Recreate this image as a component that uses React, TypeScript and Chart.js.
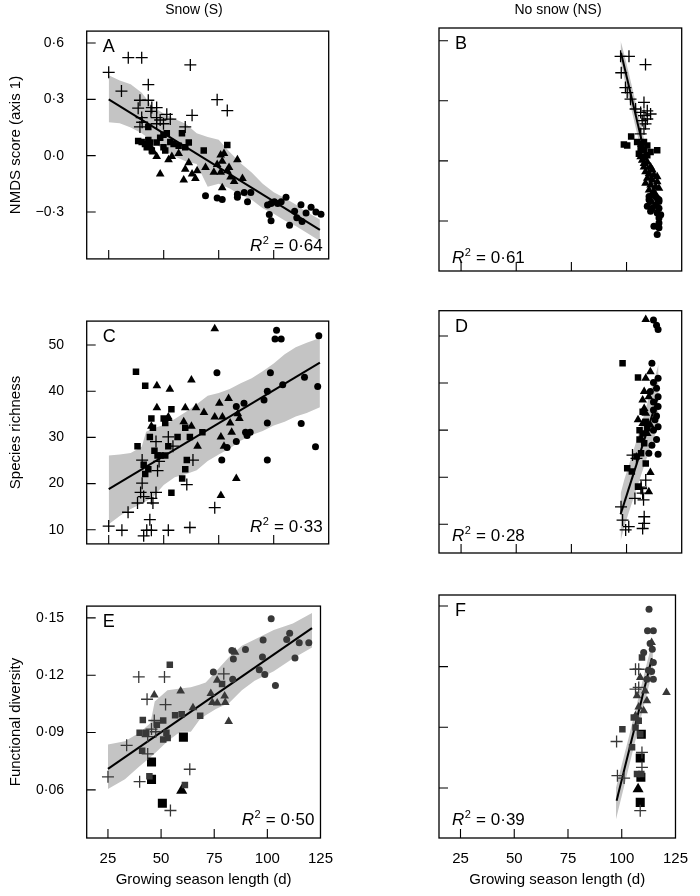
import React, { useEffect, useRef } from 'react';
import { Chart, registerables } from 'chart.js';

Chart.register(...registerables);

type Pt = [number, number];

const FONT = '"Liberation Sans", Arial, Helvetica, sans-serif';

// ---------- shared axis ticks & texts ----------
const xTickValues = [25, 50, 75, 100, 125];
const xTickLabels = ['25', '50', '75', '100', '125'];
const nmdsTickValues = [0.6, 0.3, 0, -0.3];
const nmdsTickLabels = ['0·6', '0·3', '0·0', '−0·3'];
const richTickValues = [50, 40, 30, 20, 10];
const richTickLabels = ['50', '40', '30', '20', '10'];
const fdTickValues = [0.15, 0.12, 0.09, 0.06];
const fdTickLabels = ['0·15', '0·12', '0·09', '0·06'];

const columnTitles = ['Snow (S)', 'No snow (NS)'];
const rowTitles = ['NMDS score (axis 1)', 'Species richness', 'Functional diversity'];
const xAxisTitle = 'Growing season length (d)';
const panelLetters = ['A', 'B', 'C', 'D', 'E', 'F'];
const r2Values = ['0·64', '0·61', '0·33', '0·28', '0·50', '0·39'];

// ---------- Panel A (snow, NMDS) ----------
const aCross: Pt[] = [[25, 0.444], [30.8, 0.344], [33.9, 0.522], [40.0, 0.522], [43.0, 0.378], [62.1, 0.483], [74.3, 0.298], [78.9, 0.24], [39.2, 0.295], [38.4, 0.253], [43.0, 0.295], [44.6, 0.256], [46.8, 0.256], [40.0, 0.203], [39.2, 0.153], [46.8, 0.203], [48.4, 0.19], [51.4, 0.22], [49.9, 0.17], [53.0, 0.195], [62.9, 0.215], [59.8, 0.153], [40.2, 0.178], [46.8, 0.17], [44.2, 0.236]];
const aSquare: Pt[] = [[38.4, 0.078], [40.0, 0.073], [43.0, 0.083], [41.5, 0.062], [42.3, 0.045], [43.8, 0.07], [44.6, 0.028], [46.8, 0.07], [48.4, 0.095], [49.9, 0.111], [51.4, 0.12], [49.9, 0.045], [50.7, 0.028], [53.0, 0.073], [54.5, 0.062], [56.8, 0.053], [58.3, 0.12], [59.8, 0.045], [61.4, 0.07], [43.0, 0.153], [68.2, 0.028], [78.9, 0.057]];
const aTriangle: Pt[] = [[43.8, 0.053], [45.3, 0.02], [46.8, -0.005], [48.4, -0.097], [52.2, -0.022], [53.7, -0.005], [56.8, 0.012], [59.1, -0.13], [59.8, -0.072], [61.4, -0.038], [62.9, -0.097], [64.4, -0.121], [65.2, -0.08], [69.0, -0.063], [74.3, -0.047], [75.9, 0.003], [77.4, 0.012], [76.6, -0.03], [75.9, -0.088], [78.9, -0.08], [79.7, -0.063], [80.4, -0.113], [82.0, -0.138], [83.5, -0.022], [85.8, -0.121], [76.6, -0.171], [72.8, -0.088]];
const aCircle: Pt[] = [[69.0, -0.213], [74.3, -0.226], [76.6, -0.233], [83.5, -0.205], [83.5, -0.221], [86.6, -0.196], [88.1, -0.246], [89.6, -0.196], [97.2, -0.263], [98.8, -0.255], [100.3, -0.246], [101.8, -0.255], [103.4, -0.246], [105.6, -0.221], [98.0, -0.313], [98.8, -0.346], [107.2, -0.371], [109.5, -0.296], [112.4, -0.262], [114.7, -0.305], [119.2, -0.3], [121.5, -0.312], [112.9, -0.35], [110.5, -0.33], [117, -0.275]];
const aLineX = [25, 121];
const aLineY = [0.3, -0.395];
const aBandX = [25, 30, 35, 40, 45, 50, 55, 60, 65, 70, 75, 80, 85, 90, 95, 100, 105, 110, 115, 121];
const aBandUpper = [0.428, 0.4, 0.38, 0.335, 0.26, 0.225, 0.195, 0.17, 0.12, 0.1, 0.085, 0.02, -0.04, -0.09, -0.15, -0.195, -0.225, -0.26, -0.3, -0.34];
const aBandLower = [0.178, 0.172, 0.15, 0.12, 0.075, 0.03, -0.005, -0.03, -0.045, -0.165, -0.15, -0.175, -0.21, -0.235, -0.28, -0.31, -0.345, -0.375, -0.41, -0.455];

// ---------- Panel B (no snow, NMDS) ----------
const bCross: Pt[] = [[97.3, 0.522], [101.1, 0.522], [108.6, 0.481], [97.6, 0.44], [99.5, 0.366], [100.3, 0.341], [101.8, 0.308], [107.9, 0.292], [104.1, 0.259], [106.4, 0.242], [109.4, 0.25], [107.9, 0.226], [110.9, 0.234], [107.1, 0.201], [108.6, 0.185], [107.9, 0.16], [106.4, 0.135], [109.4, 0.209]];
const bSquare: Pt[] = [[98.8, 0.082], [100.3, 0.077], [102.1, 0.122], [104.8, 0.094], [106.4, 0.086], [107.9, 0.094], [109.4, 0.077], [106.4, 0.061], [107.9, 0.053], [105.6, 0.036], [110.9, 0.044], [113.9, 0.053], [107.9, 0.02], [109.4, 0.028]];
const bTriangle: Pt[] = [[107.1, 0.003], [109.4, -0.005], [107.9, -0.03], [110.9, -0.03], [108.6, -0.054], [110.2, -0.063], [112.4, -0.071], [109.4, -0.087], [111.7, -0.096], [113.9, -0.104], [110.9, -0.12], [113.2, -0.129], [114.7, -0.137], [110.2, -0.145], [112.4, -0.153], [107.9, -0.013], [106.4, 0.02], [113.9, -0.079], [111.7, -0.046], [108.6, -0.112]];
const bCircle: Pt[] = [[110.2, -0.178], [111.7, -0.17], [113.9, -0.186], [114.7, -0.203], [110.9, -0.203], [113.2, -0.219], [109.4, -0.227], [111.7, -0.236], [114.7, -0.236], [113.9, -0.26], [114.7, -0.285], [114.7, -0.31], [112.4, -0.326], [114.7, -0.334], [113.9, -0.367], [110.2, -0.194], [113.2, -0.178], [115.5, -0.269], [110.9, -0.252], [114.7, -0.194]];
const bLineX = [97.5, 115];
const bLineY = [0.54, -0.279];
const bBandX = [97.3, 99, 101, 103, 105, 107, 109, 111, 113, 115];
const bBandUpper = [0.6, 0.53, 0.44, 0.345, 0.25, 0.155, 0.06, -0.03, -0.125, -0.22];
const bBandLower = [0.5, 0.41, 0.31, 0.22, 0.125, 0.035, -0.06, -0.155, -0.25, -0.34];

// ---------- Panel C (snow, richness) ----------
const cCross: Pt[] = [[25, 10.8], [31.0, 9.9], [33.8, 13.8], [38.1, 15.8], [39.5, 18.1], [40.2, 20.1], [40.2, 25.1], [40.9, 8.7], [42.3, 9.9], [43.7, 12.2], [44.4, 16.8], [45.1, 15.8], [44.4, 9.9], [46.5, 18.1], [46.5, 29.1], [47.9, 24.8], [47.2, 22.8], [52.1, 9.9], [52.1, 30.1], [54.2, 28.1], [60.5, 19.8], [61.9, 10.5], [63.3, 25.1], [73.2, 14.8], [40.9, 17.2]];
const cSquare: Pt[] = [[37.4, 44.2], [41.6, 41.2], [38.1, 28.1], [40.9, 24.1], [41.6, 22.1], [43.0, 23.1], [44.4, 34.1], [45.1, 32.1], [43.7, 30.1], [45.8, 27.1], [47.2, 26.1], [48.6, 26.1], [50.7, 26.1], [50.0, 34.1], [50.7, 33.1], [52.1, 28.1], [53.5, 36.1], [56.3, 30.1], [58.4, 21.1], [59.8, 23.1], [60.5, 25.1], [59.8, 32.1], [61.9, 30.1], [67.6, 31.1], [53.5, 18.0]];
const cTriangle: Pt[] = [[46.9, 41.2], [46.9, 36.4], [52.8, 40.4], [52.1, 34.1], [59.8, 36.4], [62.6, 42.4], [62.6, 32.4], [64.7, 36.4], [65.4, 28.1], [68.3, 35.4], [73.2, 53.5], [73.2, 34.4], [75.3, 37.4], [76.0, 30.1], [76.7, 34.4], [77.4, 28.1], [79.5, 38.4], [80.2, 33.1], [80.9, 31.1], [83.0, 21.1], [83.7, 35.1], [84.4, 34.1], [76.0, 17.4], [44.4, 32.4], [52.1, 34.4], [59.1, 33.4]];
const cCircle: Pt[] = [[74.2, 44.0], [76.4, 25.1], [78.8, 27.8], [83.0, 36.7], [83.0, 29.1], [86.5, 37.4], [87.2, 31.1], [87.9, 30.4], [89.3, 31.1], [95.6, 38.1], [97.1, 33.1], [97.1, 25.1], [98.5, 44.0], [97.1, 40.0], [101.3, 53.2], [100.6, 51.3], [103.4, 51.3], [104.1, 41.4], [120.5, 52], [114, 43], [120, 41], [112.5, 33], [119, 28]];
const cLineX = [25, 121];
const cLineY = [18.8, 46.2];
const cBandX = [25, 30, 35, 40, 42, 45, 50, 55, 60, 65, 70, 75, 80, 85, 90, 95, 100, 105, 110, 115, 121];
const cBandUpper = [26.1, 26.3, 26.6, 28.0, 31.2, 31.9, 32.7, 34.0, 35.5, 37.2, 39.0, 39.6, 40.5, 41.7, 42.8, 44.3, 46.0, 48.0, 49.5, 50.5, 51.5];
const cBandLower = [11.2, 13.0, 14.5, 15.7, 16.2, 17.0, 19.7, 21.4, 22.0, 22.9, 24.9, 26.3, 27.6, 29.3, 30.5, 31.4, 32.6, 33.4, 34.5, 35.3, 36.5];

// ---------- Panel D (no snow, richness) ----------
const dCross: Pt[] = [[102.7, 24.7], [104.5, 24.0], [108.7, 19.4], [106.6, 17.6], [107.3, 16.6], [103.8, 15.5], [107.7, 15.2], [97.5, 13.7], [98.2, 10.9], [101.0, 9.5], [99.6, 8.8], [108.0, 11.6], [108.0, 10.2], [107.3, 9.1], [106.6, 17.9]];
const dSquare: Pt[] = [[98.2, 44.2], [105.2, 41.2], [107.3, 33.9], [105.9, 30.0], [108.7, 31.8], [105.9, 28.0], [108.0, 27.2], [104.5, 24.4], [108.7, 22.9], [100.3, 21.9], [102.4, 21.2], [106.6, 25.1], [105.2, 18.0], [109.4, 30.4], [107.3, 29.3]];
const dTriangle: Pt[] = [[108.7, 53.5], [110.8, 42.4], [108.7, 41.0], [108.0, 38.2], [107.3, 36.4], [110.1, 37.1], [105.2, 32.2], [108.7, 33.6], [107.3, 31.4], [110.8, 31.1], [109.4, 29.3], [106.6, 28.3], [110.8, 21.0], [110.1, 16.9], [108.0, 34.6]];
const dCircle: Pt[] = [[112.2, 53.4], [113.6, 52.3], [114.3, 51.4], [111.5, 44.2], [114.3, 41.0], [112.2, 40.1], [113.6, 38.9], [114.3, 37.1], [112.2, 36.0], [114.3, 35.0], [113.6, 33.0], [114.3, 30.7], [112.2, 30.0], [113.6, 28.0], [114.3, 24.9], [110.1, 25.1], [110.8, 38.2], [112.9, 32.2], [111.5, 26.8], [112.2, 34.3]];
const dLineX = [97.3, 114];
const dLineY = [12.1, 36.7];
const dBandX = [97.3, 99, 101, 103, 105, 107, 109, 111, 113, 114.5];
const dBandUpper = [16.5, 19.5, 22.5, 25.5, 28.5, 31.8, 35, 38.5, 41.5, 44];
const dBandLower = [6.5, 9.5, 12.5, 15.3, 18.2, 21, 23.8, 26.5, 29.2, 31];

// ---------- Panel E (snow, functional diversity) ----------
const eCross: Pt[] = [[25, 0.0668], [33.8, 0.0833], [39.5, 0.1191], [51.6, 0.1191], [43.4, 0.1074], [46.8, 0.0963], [47.5, 0.0904], [43.7, 0.0879], [43.7, 0.0788], [39.9, 0.0643], [52.1, 0.1046], [63.5, 0.0708], [54.4, 0.0492], [79.5, 0.1207], [45.5, 0.0918]];
const eSquare: Pt[] = [[54.1, 0.1254], [41.4, 0.0966], [39.9, 0.0899], [43.0, 0.0899], [41.1, 0.0805], [48.0, 0.0941], [51.0, 0.0963], [52.5, 0.0899], [51.0, 0.0863], [53.1, 0.0871], [56.6, 0.0991], [59.7, 0.0996], [68.4, 0.0988], [78.7, 0.1154], [61.2, 0.0626], [44.5, 0.0671]];
const eTriangle: Pt[] = [[46.8, 0.1096], [59.2, 0.1117], [65.0, 0.1029], [73.4, 0.1104], [74.1, 0.1057], [76.4, 0.1054], [76.4, 0.1174], [79.9, 0.1091], [80.2, 0.1057], [81.8, 0.0958], [84.8, 0.132]];
const eCircle: Pt[] = [[101.8, 0.1495], [98.0, 0.1384], [109.1, 0.1387], [83.3, 0.1329], [84.0, 0.1284], [89.7, 0.1334], [97.7, 0.1295], [96.2, 0.1229], [98.8, 0.1204], [83.7, 0.1179], [103.8, 0.1146], [74.6, 0.1216], [110.5, 0.142], [115, 0.137], [119.5, 0.137], [113, 0.129]];
const eBoldSquare: Pt[] = [[45.5, 0.0746], [45.5, 0.0655], [50.6, 0.053], [60.5, 0.0876]];
const eBoldTriangle: Pt[] = [[59.7, 0.0597]];
const eLineX = [25, 121];
const eLineY = [0.071, 0.1446];
const eBandX = [25, 33, 40, 45, 47, 53, 59, 64, 68, 71, 76, 82, 88, 94, 103, 112, 121];
const eBandUpper = [0.0837, 0.0854, 0.09, 0.095, 0.1062, 0.1121, 0.113, 0.1137, 0.115, 0.1162, 0.1222, 0.1295, 0.1354, 0.1387, 0.1437, 0.147, 0.1525];
const eBandLower = [0.0605, 0.0655, 0.0725, 0.077, 0.079, 0.0855, 0.0904, 0.0904, 0.0965, 0.099, 0.1025, 0.1055, 0.1121, 0.1171, 0.122, 0.1287, 0.1345];

// ---------- Panel F (no snow, functional diversity) ----------
const fCross: Pt[] = [[106.4, 0.1187], [107.9, 0.1187], [106.4, 0.1089], [97.6, 0.083], [98.0, 0.0661], [101.1, 0.0649], [109.4, 0.0776], [109.4, 0.0702], [108.6, 0.0488], [107.9, 0.1097]];
const fSquare: Pt[] = [[109.4, 0.1245], [100.3, 0.0891], [106.4, 0.0899], [108.6, 0.0866], [104.8, 0.0801], [109.1, 0.0669], [107.1, 0.0669], [105.6, 0.0949], [107.9, 0.0932]];
const fTriangle: Pt[] = [[113.9, 0.1319], [120.8, 0.1072], [110.9, 0.108], [107.1, 0.1056], [111.7, 0.1031], [110.2, 0.0982], [106.4, 0.0957], [107.9, 0.1], [108.6, 0.1146]];
const fCircle: Pt[] = [[112.7, 0.1484], [112.0, 0.1377], [114.7, 0.1377], [114.2, 0.1286], [110.2, 0.127], [114.7, 0.122], [113.9, 0.1176], [114.7, 0.1138], [111.7, 0.1138], [112.4, 0.1182], [113.2, 0.1314]];
const fBoldSquare: Pt[] = [[109.1, 0.0866], [108.6, 0.0748], [108.9, 0.0653], [108.6, 0.0529]];
const fBoldTriangle: Pt[] = [[107.6, 0.0595]];
const fLineX = [97.6, 114];
const fLineY = [0.0537, 0.1241];
const fBandX = [97.3, 100, 103, 106, 109, 112, 114.5];
const fBandUpper = [0.06, 0.0715, 0.084, 0.097, 0.11, 0.123, 0.133];
const fBandLower = [0.0445, 0.056, 0.069, 0.082, 0.095, 0.108, 0.118];

// ---------- layout ----------
const LEFT_COL = { x: 0, w: 345, boxL: 86.7, boxR: 328.7 };
const RIGHT_COL = { x: 350, w: 350, boxL: 439, boxR: 681.7 };
const ROWS = [
  { y: 0, h: 290, boxT: 28, boxB: 271, r2Off: 8 },
  { y: 290, h: 285, boxT: 310.7, boxB: 553, r2Off: 12 },
  { y: 575, h: 321, boxT: 595, boxB: 838, r2Off: 13 },
];

const BLACK = '#000000';
const GREY_MARK = '#383838';
const BAND = '#c4c4c4';

interface PanelCfg {
  idx: number;
  col: any;
  row: any;
  yMin: number;
  yMax: number;
  yTicks: number[];
  yLabels: string[];
  cross: Pt[];
  square: Pt[];
  triangle: Pt[];
  circle: Pt[];
  boldSquare?: Pt[];
  boldTriangle?: Pt[];
  lineX: number[];
  lineY: number[];
  bandX: number[];
  bandU: number[];
  bandL: number[];
  markColor: string;
  headerX?: number;
}

const panels: PanelCfg[] = [
  { idx: 0, col: LEFT_COL, row: ROWS[0], yMin: -0.5498, yMax: 0.6634, yTicks: nmdsTickValues, yLabels: nmdsTickLabels, cross: aCross, square: aSquare, triangle: aTriangle, circle: aCircle, lineX: aLineX, lineY: aLineY, bandX: aBandX, bandU: aBandUpper, bandL: aBandLower, markColor: BLACK, headerX: 194 },
  { idx: 1, col: RIGHT_COL, row: ROWS[0], yMin: -0.5498, yMax: 0.6634, yTicks: nmdsTickValues, yLabels: nmdsTickLabels, cross: bCross, square: bSquare, triangle: bTriangle, circle: bCircle, lineX: bLineX, lineY: bLineY, bandX: bBandX, bandU: bBandUpper, bandL: bBandLower, markColor: BLACK, headerX: 558 },
  { idx: 2, col: LEFT_COL, row: ROWS[1], yMin: 6.95, yMax: 55.17, yTicks: richTickValues, yLabels: richTickLabels, cross: cCross, square: cSquare, triangle: cTriangle, circle: cCircle, lineX: cLineX, lineY: cLineY, bandX: cBandX, bandU: cBandUpper, bandL: cBandLower, markColor: BLACK },
  { idx: 3, col: RIGHT_COL, row: ROWS[1], yMin: 3.9, yMax: 55.37, yTicks: richTickValues, yLabels: richTickLabels, cross: dCross, square: dSquare, triangle: dTriangle, circle: dCircle, lineX: dLineX, lineY: dLineY, bandX: dBandX, bandU: dBandUpper, bandL: dBandLower, markColor: BLACK },
  { idx: 4, col: LEFT_COL, row: ROWS[2], yMin: 0.03482, yMax: 0.15614, yTicks: fdTickValues, yLabels: fdTickLabels, cross: eCross, square: eSquare, triangle: eTriangle, circle: eCircle, boldSquare: eBoldSquare, boldTriangle: eBoldTriangle, lineX: eLineX, lineY: eLineY, bandX: eBandX, bandU: eBandUpper, bandL: eBandLower, markColor: GREY_MARK },
  { idx: 5, col: RIGHT_COL, row: ROWS[2], yMin: 0.0353, yMax: 0.1554, yTicks: fdTickValues, yLabels: fdTickLabels, cross: fCross, square: fSquare, triangle: fTriangle, circle: fCircle, boldSquare: fBoldSquare, boldTriangle: fBoldTriangle, lineX: fLineX, lineY: fLineY, bandX: fBandX, bandU: fBandUpper, bandL: fBandLower, markColor: GREY_MARK },
];

const pts = (arr: Pt[]) => arr.map(([x, y]) => ({ x, y }));
const zip = (xs: number[], ys: number[]) => xs.map((x, i) => ({ x, y: ys[i] }));

function markerSet(data: Pt[], style: string, radius: number, color: string) {
  return {
    data: pts(data),
    showLine: false,
    pointStyle: style,
    pointRadius: radius,
    pointHoverRadius: radius,
    pointBackgroundColor: color,
    pointBorderColor: color,
    pointBorderWidth: style === 'cross' ? 1.3 : 0,
    borderColor: color,
    backgroundColor: color,
    order: 0,
  };
}

function framePlugin(p: PanelCfg) {
  const isLeft = p.col === LEFT_COL;
  return {
    id: 'frame' + p.idx,
    afterDraw(chart: any) {
      const { ctx, chartArea: a, scales } = chart;
      const xs = scales.x;
      const ys = scales.y;
      ctx.save();
      ctx.strokeStyle = BLACK;
      ctx.lineWidth = 1.3;
      ctx.strokeRect(a.left, a.top, a.right - a.left, a.bottom - a.top);
      ctx.lineWidth = 1.1;
      ctx.beginPath();
      for (const v of xTickValues) {
        const px = xs.getPixelForValue(v);
        if (px > a.left + 2 && px < a.right - 2) {
          ctx.moveTo(px, a.bottom);
          ctx.lineTo(px, a.bottom - 9);
        }
      }
      for (const v of p.yTicks) {
        const py = ys.getPixelForValue(v);
        if (py > a.top + 2 && py < a.bottom - 2) {
          ctx.moveTo(a.left, py);
          ctx.lineTo(a.left + 9, py);
        }
      }
      ctx.stroke();

      ctx.fillStyle = BLACK;
      ctx.textBaseline = 'alphabetic';
      ctx.textAlign = 'left';
      ctx.font = `18px ${FONT}`;
      ctx.fillText(panelLetters[p.idx], a.left + 16, a.top + 21);

      // R² label
      const rest = ' = ' + r2Values[p.idx];
      ctx.font = `italic 17px ${FONT}`;
      const w1 = ctx.measureText('R').width;
      ctx.font = `11px ${FONT}`;
      const w2 = ctx.measureText('2').width;
      ctx.font = `17px ${FONT}`;
      const w3 = ctx.measureText(rest).width;
      const total = w1 + w2 + 1 + w3;
      const base = a.bottom - p.row.r2Off;
      const x0 = isLeft ? a.right - 6 - total : a.left + 13;
      ctx.font = `italic 17px ${FONT}`;
      ctx.fillText('R', x0, base);
      ctx.font = `11px ${FONT}`;
      ctx.fillText('2', x0 + w1 + 0.5, base - 7);
      ctx.font = `17px ${FONT}`;
      ctx.fillText(rest, x0 + w1 + w2 + 1, base);

      if (p.headerX !== undefined) {
        ctx.font = `14px ${FONT}`;
        ctx.textAlign = 'center';
        ctx.fillText(columnTitles[isLeft ? 0 : 1], p.headerX - p.col.x, 14);
      }
      ctx.restore();
    },
  };
}

function buildChart(canvas: HTMLCanvasElement, p: PanelCfg) {
  const isLeft = p.col === LEFT_COL;
  const isBottom = p.row === ROWS[2];
  const yW = p.col.boxL - p.col.x;
  const padTop = p.row.boxT - p.row.y;
  const padRight = p.col.x + p.col.w - p.col.boxR;
  const xH = p.row.y + p.row.h - p.row.boxB;
  const rowIdx = ROWS.indexOf(p.row);

  const datasets: any[] = [];
  datasets.push(markerSet(p.cross, 'cross', 6, p.markColor));
  datasets.push(markerSet(p.square, 'rect', 4.6, p.markColor));
  datasets.push(markerSet(p.triangle, 'triangle', 5, p.markColor));
  datasets.push(markerSet(p.circle, 'circle', 3.5, p.markColor));
  if (p.boldSquare) datasets.push(markerSet(p.boldSquare, 'rect', 6.4, BLACK));
  if (p.boldTriangle) datasets.push(markerSet(p.boldTriangle, 'triangle', 6.4, BLACK));
  datasets.push({
    data: zip(p.lineX, p.lineY),
    showLine: true,
    borderColor: BLACK,
    borderWidth: 2,
    pointRadius: 0,
    fill: false,
    tension: 0,
    order: 5,
  });
  datasets.push({
    data: zip(p.bandX, p.bandL),
    showLine: true,
    borderColor: 'rgba(0,0,0,0)',
    borderWidth: 0,
    pointRadius: 0,
    fill: false,
    tension: 0,
    order: 10,
  });
  datasets.push({
    data: zip(p.bandX, p.bandU),
    showLine: true,
    borderColor: 'rgba(0,0,0,0)',
    borderWidth: 0,
    backgroundColor: BAND,
    pointRadius: 0,
    fill: '-1',
    tension: 0,
    order: 10,
  });

  return new Chart(canvas, {
    type: 'line',
    data: { datasets },
    plugins: [framePlugin(p)],
    options: {
      responsive: false,
      animation: false,
      devicePixelRatio: 1,
      events: [],
      layout: { padding: { left: 0, right: padRight, top: padTop, bottom: 0 } },
      plugins: { legend: { display: false }, tooltip: { enabled: false } },
      scales: {
        x: {
          type: 'linear',
          min: 15,
          max: 125,
          bounds: 'data',
          grid: { display: false, drawTicks: false },
          border: { display: false },
          afterBuildTicks: (s: any) => {
            s.ticks = xTickValues.map((v) => ({ value: v }));
          },
          afterFit: (s: any) => {
            s.height = xH;
          },
          ticks: {
            display: isBottom,
            autoSkip: false,
            maxRotation: 0,
            minRotation: 0,
            padding: 12,
            color: BLACK,
            font: { family: FONT, size: 15 },
            callback: (_v: any, i: number) => xTickLabels[i],
          },
          title: {
            display: isBottom,
            text: xAxisTitle,
            color: BLACK,
            font: { family: FONT, size: 15 },
            padding: { top: 0, bottom: 7 },
          },
        },
        y: {
          type: 'linear',
          min: p.yMin,
          max: p.yMax,
          bounds: 'data',
          grid: { display: false, drawTicks: false },
          border: { display: false },
          afterBuildTicks: (s: any) => {
            s.ticks = p.yTicks.map((v) => ({ value: v }));
          },
          afterFit: (s: any) => {
            s.width = yW;
          },
          ticks: {
            display: isLeft,
            autoSkip: false,
            padding: 22.7,
            color: BLACK,
            font: { family: FONT, size: 14 },
            callback: (_v: any, i: number) => p.yLabels[i],
          },
          title: {
            display: isLeft,
            text: rowTitles[rowIdx],
            color: BLACK,
            font: { family: FONT, size: 15 },
            padding: { top: 7, bottom: 0 },
          },
        },
      },
    } as any,
  } as any);
}

function Panel({ cfg }: { cfg: PanelCfg }) {
  const ref = useRef<HTMLCanvasElement>(null);
  useEffect(() => {
    const chart = buildChart(ref.current as HTMLCanvasElement, cfg);
    return () => chart.destroy();
  }, [cfg]);
  return (
    <canvas
      ref={ref}
      width={cfg.col.w}
      height={cfg.row.h}
      style={{ position: 'absolute', left: cfg.col.x, top: cfg.row.y, width: cfg.col.w, height: cfg.row.h }}
    />
  );
}

export default function App() {
  return (
    <div style={{ position: 'absolute', left: 0, top: 0, width: 700, height: 896, background: '#ffffff', overflow: 'hidden' }}>
      {panels.map((p) => (
        <Panel key={p.idx} cfg={p} />
      ))}
    </div>
  );
}
